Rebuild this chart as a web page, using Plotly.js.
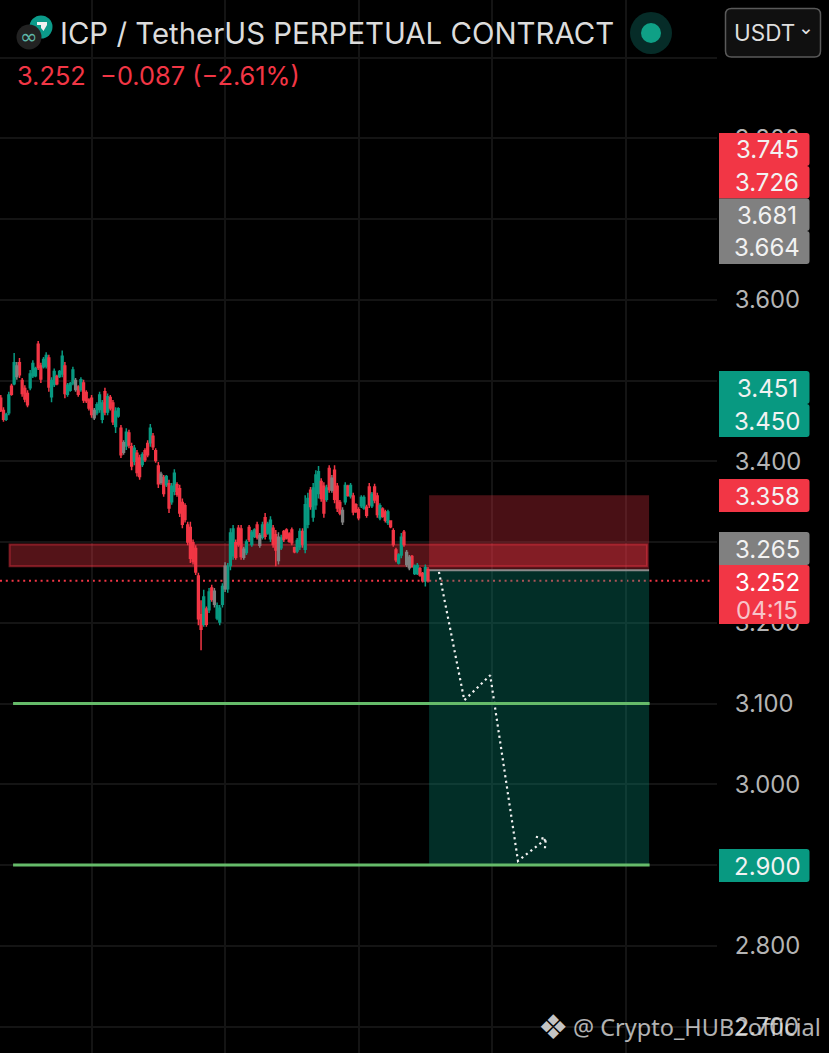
<!DOCTYPE html>
<html>
<head>
<meta charset="utf-8">
<script src="https://cdn.plot.ly/plotly-3.0.1.min.js"></script>
<style>html,body{margin:0;padding:0;background:#000}#chart{width:829px;height:1053px}</style>
</head>
<body>
<div id="chart"></div>
<script>
// ---------- data ----------
const openP = [3.478,3.463,3.452,3.460,3.493,3.496,3.505,3.522,3.500,3.490,3.484,3.491,3.506,3.506,3.545,3.518,3.517,3.518,3.528,3.480,3.495,3.505,3.505,3.508,3.518,3.483,3.488,3.497,3.489,3.492,3.489,3.497,3.485,3.476,3.478,3.454,3.460,3.464,3.452,3.486,3.461,3.479,3.472,3.443,3.456,3.441,3.411,3.419,3.435,3.418,3.400,3.410,3.404,3.396,3.413,3.422,3.423,3.431,3.413,3.394,3.374,3.380,3.371,3.372,3.350,3.363,3.371,3.366,3.349,3.345,3.321,3.318,3.299,3.292,3.258,3.210,3.198,3.217,3.216,3.243,3.223,3.206,3.201,3.223,3.242,3.242,3.271,3.283,3.299,3.317,3.316,3.281,3.287,3.318,3.297,3.307,3.321,3.296,3.306,3.330,3.311,3.304,3.317,3.309,3.277,3.293,3.313,3.315,3.310,3.315,3.293,3.289,3.294,3.313,3.291,3.322,3.364,3.331,3.346,3.360,3.375,3.369,3.353,3.391,3.364,3.389,3.369,3.349,3.325,3.350,3.369,3.357,3.357,3.346,3.340,3.345,3.342,3.343,3.368,3.345,3.368,3.357,3.330,3.341,3.337,3.324,3.326,3.314,3.290,3.274,3.284,3.312,3.272,3.268,3.282,3.261,3.261,3.267,3.261,3.252,3.266];
const highP = [3.482,3.467,3.460,3.486,3.496,3.534,3.523,3.528,3.503,3.494,3.488,3.513,3.525,3.517,3.549,3.522,3.529,3.535,3.532,3.504,3.515,3.507,3.513,3.537,3.523,3.497,3.498,3.517,3.503,3.494,3.504,3.501,3.488,3.478,3.482,3.466,3.473,3.486,3.476,3.491,3.484,3.482,3.476,3.467,3.467,3.445,3.426,3.441,3.439,3.423,3.420,3.414,3.408,3.411,3.416,3.426,3.446,3.435,3.416,3.399,3.387,3.383,3.383,3.377,3.373,3.390,3.374,3.371,3.354,3.348,3.325,3.325,3.303,3.296,3.262,3.228,3.241,3.220,3.243,3.247,3.243,3.225,3.222,3.249,3.275,3.274,3.317,3.321,3.303,3.321,3.321,3.294,3.303,3.321,3.315,3.317,3.325,3.311,3.325,3.336,3.325,3.332,3.321,3.315,3.312,3.309,3.315,3.317,3.312,3.318,3.294,3.305,3.317,3.317,3.358,3.361,3.368,3.373,3.389,3.394,3.379,3.374,3.371,3.395,3.383,3.395,3.373,3.352,3.343,3.374,3.371,3.373,3.361,3.348,3.343,3.358,3.358,3.346,3.373,3.362,3.372,3.361,3.348,3.343,3.340,3.340,3.327,3.317,3.293,3.286,3.311,3.315,3.290,3.284,3.284,3.272,3.274,3.269,3.263,3.272,3.269];
const lowP = [3.461,3.449,3.450,3.457,3.481,3.494,3.501,3.503,3.480,3.473,3.467,3.488,3.503,3.504,3.513,3.497,3.515,3.515,3.486,3.473,3.492,3.494,3.503,3.504,3.478,3.480,3.486,3.494,3.486,3.480,3.486,3.472,3.472,3.463,3.454,3.451,3.457,3.460,3.447,3.457,3.457,3.463,3.445,3.435,3.454,3.404,3.408,3.414,3.416,3.389,3.395,3.381,3.377,3.393,3.399,3.405,3.418,3.414,3.398,3.367,3.371,3.356,3.368,3.336,3.346,3.358,3.356,3.331,3.317,3.324,3.296,3.274,3.272,3.259,3.197,3.166,3.195,3.195,3.212,3.226,3.219,3.203,3.197,3.219,3.238,3.237,3.265,3.278,3.278,3.294,3.278,3.278,3.284,3.300,3.294,3.305,3.303,3.293,3.303,3.303,3.309,3.300,3.293,3.270,3.272,3.290,3.300,3.303,3.299,3.296,3.286,3.286,3.290,3.293,3.286,3.317,3.340,3.325,3.340,3.354,3.350,3.330,3.350,3.361,3.361,3.348,3.337,3.333,3.321,3.346,3.356,3.354,3.333,3.336,3.327,3.342,3.340,3.330,3.342,3.342,3.348,3.330,3.327,3.330,3.324,3.321,3.317,3.294,3.275,3.272,3.280,3.294,3.269,3.265,3.268,3.259,3.259,3.257,3.250,3.245,3.250];
const closeP = [3.463,3.452,3.458,3.482,3.483,3.522,3.518,3.507,3.484,3.477,3.470,3.508,3.521,3.515,3.516,3.502,3.526,3.531,3.492,3.500,3.511,3.496,3.511,3.530,3.484,3.494,3.496,3.513,3.500,3.483,3.501,3.476,3.475,3.466,3.458,3.463,3.470,3.482,3.472,3.461,3.480,3.466,3.449,3.462,3.465,3.408,3.423,3.436,3.420,3.394,3.416,3.386,3.381,3.408,3.402,3.408,3.441,3.418,3.401,3.372,3.384,3.360,3.381,3.342,3.369,3.385,3.359,3.336,3.322,3.328,3.300,3.280,3.276,3.263,3.205,3.192,3.232,3.198,3.238,3.229,3.239,3.221,3.218,3.245,3.270,3.270,3.311,3.316,3.281,3.297,3.282,3.291,3.300,3.303,3.312,3.315,3.306,3.308,3.321,3.307,3.322,3.327,3.297,3.290,3.306,3.305,3.303,3.305,3.301,3.299,3.288,3.302,3.313,3.297,3.346,3.354,3.344,3.367,3.383,3.387,3.354,3.336,3.367,3.365,3.379,3.353,3.342,3.336,3.339,3.370,3.358,3.370,3.337,3.338,3.330,3.355,3.355,3.333,3.346,3.359,3.352,3.334,3.345,3.332,3.327,3.337,3.319,3.297,3.278,3.284,3.306,3.297,3.287,3.281,3.270,3.270,3.271,3.259,3.252,3.268,3.252];
const grayCandles = [6,28,35,46,60,80,84,91,97,104,124,128,152,153];

const priceTicks = [2.7,2.8,2.9,3.0,3.1,3.2,3.3,3.4,3.5,3.6,3.7,3.8,3.9];
const priceTickText = ["2.700","2.800","2.900","3.000","3.100","3.200","3.300","3.400","3.500","3.600","3.700","3.800",""];
const timeGrid = [34,84,134,184,234];

const lastPrice = 3.252, entryPrice = 3.265, stopPrice = 3.358;
const zoneTop = 3.297, zoneBottom = 3.270;
const targetOne = 3.1, targetTwo = 2.9;

const pathTime = [164.1,173.6,183.3,193.7,204.1];
const pathPrice = [3.263,3.104,3.135,2.905,2.932];
const headTime = [200.4,204.1,203.7];
const headPrice = [2.935,2.932,2.917];

const tagTexts = ["3.745","3.726","3.681","3.664","3.451","3.450","3.358","3.265","2.900"];
const tagKinds = ["r","r","g","g","t","t","r","g","t"];

const titleText = "ICP / TetherUS PERPETUAL CONTRACT";
const quoteText = "3.252  \u22120.087 (\u22122.61%)";
const watermark = "@ Crypto_HUB2official";

// ---------- style ----------
const RED="#f23645", TEAL="#089981", GRAY="#808080", GRID="#141414";
const W=829,H=1053,PLOT_W=717;
const X=p=>p/PLOT_W, Y=p=>1-p/H;
const FONT="Inter, Roboto, sans-serif";

const time = openP.map((_,i)=>i);
const isGray = i=>grayCandles.includes(i);
const pick=(a,keep)=>a.map((v,i)=>keep(i)?v:null);
const main=i=>!isGray(i);

const candles={type:"candlestick",x:time,open:pick(openP,main),high:pick(highP,main),low:pick(lowP,main),close:pick(closeP,main),
  increasing:{line:{color:TEAL,width:1.5},fillcolor:TEAL},decreasing:{line:{color:RED,width:1.5},fillcolor:RED},
  whiskerwidth:0,hoverinfo:"skip",showlegend:false};
const grayTrace={type:"candlestick",x:time,open:pick(openP,isGray),high:pick(highP,isGray),low:pick(lowP,isGray),close:pick(closeP,isGray),
  increasing:{line:{color:GRAY,width:1.5},fillcolor:GRAY},decreasing:{line:{color:GRAY,width:1.5},fillcolor:GRAY},
  whiskerwidth:0,hoverinfo:"skip",showlegend:false};
const dotted={color:"#f2f2f2",width:2.2,dash:"2.2px,3.5px"};
const path={type:"scatter",mode:"lines",x:pathTime,y:pathPrice,line:dotted,hoverinfo:"skip",showlegend:false,cliponaxis:false};
const head={type:"scatter",mode:"lines",x:headTime,y:headPrice,line:dotted,hoverinfo:"skip",showlegend:false};

// data x positions of the drawings
const boxL=160.4, boxR=242.8, zoneL=3.3, zoneR=242, lineL=4.6, lineR=243;
const shapes=[
 {type:"rect",layer:"between",xref:"x",yref:"y",x0:boxL,x1:boxR,y0:entryPrice,y1:stopPrice,fillcolor:"rgba(242,54,69,0.30)",line:{width:0}},
 {type:"rect",layer:"between",xref:"x",yref:"y",x0:boxL,x1:boxR,y0:targetTwo,y1:entryPrice,fillcolor:"rgba(8,153,129,0.30)",line:{width:0}},
 {type:"rect",layer:"between",xref:"x",yref:"y",x0:zoneL,x1:zoneR,y0:zoneBottom,y1:zoneTop,fillcolor:"rgba(242,54,69,0.35)",line:{color:"rgba(242,54,69,0.45)",width:2}},
 {type:"line",layer:"between",xref:"x",yref:"y",x0:boxL,x1:boxR,y0:entryPrice,y1:entryPrice,line:{color:"#8a8a8a",width:2}},
 {type:"line",layer:"between",xref:"paper",yref:"y",x0:0,x1:0.995,y0:lastPrice,y1:lastPrice,line:{color:RED,width:2,dash:"2px,3.8px"}},
 {type:"line",layer:"above",xref:"x",yref:"y",x0:lineL,x1:lineR,y0:targetOne,y1:targetOne,line:{color:"#66bb6a",width:2.8}},
 {type:"line",layer:"above",xref:"x",yref:"y",x0:lineL,x1:lineR,y0:targetTwo,y1:targetTwo,line:{color:"#66bb6a",width:2.8}},
];
const annotations=[];
const tagColor={r:RED,g:"#808080",t:"#089981"};
const tagTop=[133,166,198.5,231,371,404,479,532,849];
const tagHt=[33,32.5,32.5,33,33,33,33,33,33];
const roundedTag=(x0,x1,y0,y1,c)=>{
  const r=3/PLOT_W, ry=3/H;
  const xa=X(x0),xb=X(x1),ya=Y(y0),yb=Y(y1);
  return {type:"path",layer:"above",xref:"paper",yref:"paper",fillcolor:c,line:{width:0},
    path:`M${xa},${ya} L${xb-r},${ya} Q${xb},${ya} ${xb},${ya-ry} L${xb},${yb+ry} Q${xb},${yb} ${xb-r},${yb} L${xa},${yb} Z`};
};
const addText=(text,x,y,size,color,anchor,family)=>annotations.push({text,xref:"paper",yref:"paper",x:X(x),y:Y(y),xanchor:anchor||"left",yanchor:"middle",showarrow:false,borderpad:0,font:{size,color,family:family||FONT}});
tagTexts.forEach((t,i)=>{
  shapes.push(roundedTag(719,809.5,tagTop[i],tagTop[i]+tagHt[i],tagColor[tagKinds[i]]));
  addText(t,767,tagTop[i]+tagHt[i]/2+0.5,24,"#f2f2f2","center");
});
// last price tag
shapes.push(roundedTag(719,809.5,565,624,RED));
addText("3.252",767,582.5,24,"#ffffff","center");
addText("04:15",767,610.5,24,"#f7c4c9","center");

// header
addText(titleText,59,33,29.4,"#dcdcdc","left");
addText(quoteText,16,76,25.4,RED,"left");
const circle=(cx,cy,r,fill,line)=>({type:"circle",layer:"above",xref:"paper",yref:"paper",x0:X(cx-r),x1:X(cx+r),y0:Y(cy+r),y1:Y(cy-r),fillcolor:fill,line:line||{width:0}});
shapes.push(circle(41,27,11.5,"#0b9b8a"));
shapes.push({type:"path",layer:"above",xref:"paper",yref:"paper",fillcolor:"#f0f0f0",line:{width:0},
  path:`M${X(37)},${Y(22)} L${X(47)},${Y(22)} L${X(47)},${Y(25)} L${X(43.5)},${Y(31)} L${X(41)},${Y(28)} L${X(41)},${Y(25)} L${X(37)},${Y(25)} Z`});
shapes.push(circle(29,37,12.5,"#222222"));
addText("\u221e",29,37,21,"#5fb7a8","center","DejaVu Sans");
shapes.push(circle(651,33,21,"#062c28"));
shapes.push(circle(651,33,10,"#0fa086"));
// currency button
const bx0=X(725.5),bx1=X(820.5),by0=Y(8.5),by1=Y(57),rx=6/PLOT_W,ry=6/H;
shapes.push({type:"path",layer:"above",xref:"paper",yref:"paper",fillcolor:"#101010",line:{color:"#5a5a5a",width:1.5},
  path:`M${bx0+rx},${by0} L${bx1-rx},${by0} Q${bx1},${by0} ${bx1},${by0-ry} L${bx1},${by1+ry} Q${bx1},${by1} ${bx1-rx},${by1} L${bx0+rx},${by1} Q${bx0},${by1} ${bx0},${by1+ry} L${bx0},${by0-ry} Q${bx0},${by0} ${bx0+rx},${by0} Z`});
addText("USDT",733,32,22.5,"#dedede","left");
addText("\u2304",806,27,19,"#e6e6e6","center","DejaVu Sans");
// watermark
addText("\u2756",553,1027,34,"#c4c4c4","center","DejaVu Sans");
addText(watermark,572,1027,23.5,"rgba(230,230,230,0.78)","left","Noto Sans");

const layout={
  width:W,height:H,paper_bgcolor:"#000",plot_bgcolor:"#000",showlegend:false,
  margin:{l:0,r:W-PLOT_W,t:0,b:0,pad:0},boxgap:0.05,
  xaxis:{type:"linear",range:[-0.3,-0.3+PLOT_W/2.67],rangeslider:{visible:false},showticklabels:false,ticks:"",
    tickmode:"array",tickvals:timeGrid,showgrid:true,gridcolor:GRID,gridwidth:2,zeroline:false,showline:false},
  yaxis:{type:"linear",side:"right",range:[3.1-(H-703.5)/807.5,3.1+703.5/807.5],tickmode:"array",tickvals:priceTicks,ticktext:priceTickText,
    showgrid:true,gridcolor:GRID,gridwidth:2,zeroline:false,showline:false,ticks:"outside",ticklen:12,tickcolor:"rgba(0,0,0,0)",
    tickfont:{family:FONT,size:23.8,color:"#b4b4b4"}},
  shapes,annotations
};
Plotly.newPlot("chart",[candles,grayTrace,path,head],layout,{displayModeBar:false,staticPlot:true});
</script>
</body>
</html>
